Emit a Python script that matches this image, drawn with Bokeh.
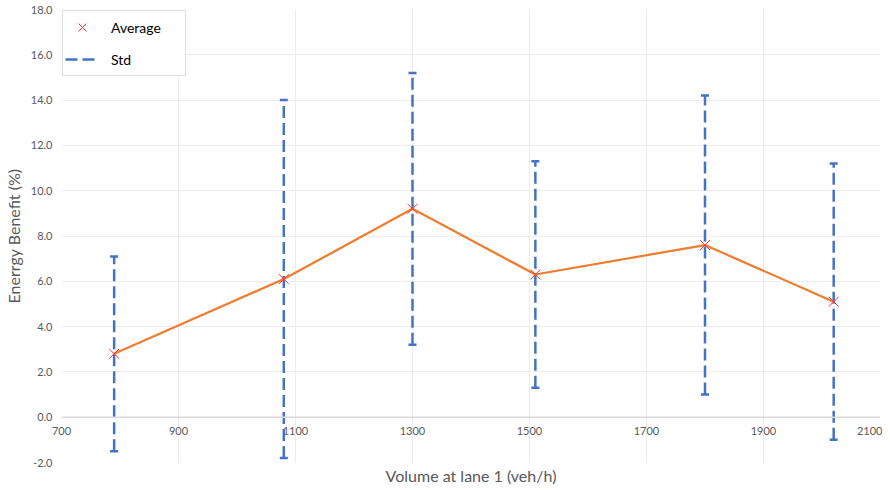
import numpy as np
from bokeh.plotting import figure
from bokeh.models import (Range1d, FixedTicker, NumeralTickFormatter, LinearAxis,
                          Legend, LegendItem, ColumnDataSource, Span)
from bokeh.embed import file_html
from bokeh.resources import INLINE

volume = [790, 1080, 1300, 1510, 1800, 2020]
average = [2.8, 6.1, 9.2, 6.3, 7.6, 5.1]
std = [4.3, 7.9, 6.0, 5.0, 6.6, 6.1]
x_ticks = [700, 900, 1100, 1300, 1500, 1700, 1900, 2100]
y_ticks = [-2, 0, 2, 4, 6, 8, 10, 12, 14, 16, 18]

FONT = "Lato"
GRAY = "#595959"

avg = np.array(average)
sd = np.array(std)
src = ColumnDataSource(dict(x=volume, y=average, top=(avg + sd).tolist(), bottom=(avg - sd).tolist()))

p = figure(frame_width=819, frame_height=453, output_backend="svg", toolbar_location=None,
           x_range=Range1d(700, 2100), y_range=Range1d(-2, 18),
           min_border_left=2, min_border_right=2, min_border_top=9, min_border_bottom=2)
p.outline_line_color = None
p.background_fill_color = "white"

# grids
p.xgrid.ticker = FixedTicker(ticks=x_ticks)
p.ygrid.ticker = FixedTicker(ticks=y_ticks)
p.xgrid.grid_line_color = "#EDEDED"
p.ygrid.grid_line_color = "#EDEDED"
p.xgrid.grid_line_width = 1
p.ygrid.grid_line_width = 1

# horizontal axis line at y = 0
p.add_layout(Span(location=0, dimension="width", line_color="#D9D9D9", line_width=1.5))

# x tick labels: below axis, labels pulled up next to the y=0 line
xa = p.xaxis[0]
xa.ticker = FixedTicker(ticks=x_ticks)
xa.axis_line_color = None
xa.major_tick_line_color = None
xa.minor_tick_line_color = None
xa.major_tick_out = 0
xa.major_tick_in = 0
xa.major_label_text_font = FONT
xa.major_label_text_font_size = "11px"
xa.major_label_text_color = GRAY
xa.major_label_standoff = -36

# separate axis for label below
xlab = LinearAxis(ticker=FixedTicker(ticks=[]), axis_label="Volume at lane 1 (veh/h)")
xlab.axis_line_color = None
xlab.major_tick_line_color = None
xlab.minor_tick_line_color = None
xlab.major_tick_out = 0
xlab.axis_label_text_font = FONT
xlab.axis_label_text_font_size = "16px"
xlab.axis_label_text_font_style = "normal"
xlab.axis_label_text_color = GRAY
xlab.axis_label_standoff = 3
p.add_layout(xlab, "below")

ya = p.yaxis[0]
ya.ticker = FixedTicker(ticks=y_ticks)
ya.formatter = NumeralTickFormatter(format="0.0")
ya.axis_line_color = None
ya.major_tick_line_color = None
ya.minor_tick_line_color = None
ya.major_label_text_font = FONT
ya.major_label_text_font_size = "11px"
ya.major_label_text_color = GRAY
ya.major_label_standoff = 3
ya.axis_label = "Enerrgy Benefit (%)"
ya.axis_label_text_font = FONT
ya.axis_label_text_font_size = "16px"
ya.axis_label_text_font_style = "normal"
ya.axis_label_text_color = GRAY
ya.axis_label_standoff = 5

BLUE = "#4472C4"
seg = p.segment(x0="x", y0="bottom", x1="x", y1="top", source=src, line_color=BLUE,
                line_width=2.5, line_dash="12 5")
cap_t = p.scatter(x="x", y="top", source=src, marker="dash", size=8, line_color=BLUE, line_width=2.5)
cap_b = p.scatter(x="x", y="bottom", source=src, marker="dash", size=8, line_color=BLUE, line_width=2.5)
ln = p.line(x="x", y="y", source=src, line_color="#ED7D31", line_width=2.25)
mk = p.scatter(x="x", y="y", source=src, marker="x", size=14, line_color="#FF3030", line_width=1)

legend = Legend(items=[LegendItem(label="Average", renderers=[mk]),
                       LegendItem(label="Std", renderers=[seg])],
                location="top_left", margin=1, padding=2, spacing=4,
                label_text_font=FONT, label_text_font_size="14px", label_text_color="black",
                border_line_color="#BFBFBF", border_line_width=1, glyph_width=34, glyph_height=28,
                label_standoff=12, label_width=72, background_fill_alpha=1)
p.add_layout(legend, "center")

open("out.html", "w").write(file_html(p, INLINE))
